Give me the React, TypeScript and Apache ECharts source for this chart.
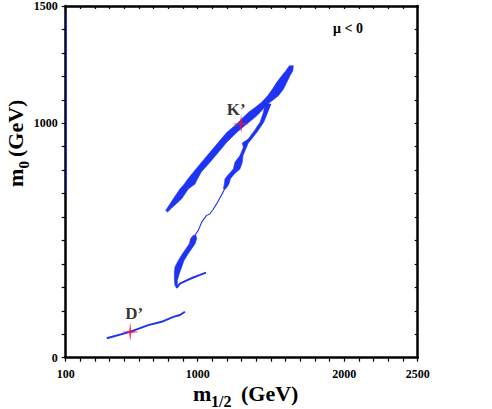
import React, { useEffect, useRef } from "react";
import * as echarts from "echarts";

// ---- axis setup ----
const xMin = 100;
const xMax = 2500;
const yMin = 0;
const yMax = 1500;
const xTickLabels = [100, 1000, 2000, 2500];
const yTickLabels = [0, 1000, 1500];

// ---- benchmark points ----
const benchmarkNames = ["K’", "D’"];
const benchmarkX = [1296, 540];
const benchmarkY = [997, 110];

// ---- upper band (thick top part + left branch), outline ----
const upperBandOutline: number[][] = [
  [1625, 1245], [1600, 1223], [1573, 1202], [1538, 1174], [1509, 1145], [1477, 1117],
  [1436, 1089], [1391, 1067], [1345, 1046], [1311, 1025], [1266, 997], [1198, 961],
  [1141, 919], [1084, 876], [1027, 834], [970, 791], [925, 756], [909, 741],
  [879, 720], [834, 678], [782, 628], [795, 621],
  [811, 632], [891, 678], [936, 720], [982, 741], [993, 756], [1023, 791],
  [1084, 834], [1141, 876], [1198, 919], [1266, 961], [1334, 997], [1391, 1025],
  [1425, 1046], [1454, 1067], [1493, 1089], [1550, 1117], [1584, 1145], [1607, 1174],
  [1629, 1202], [1648, 1223], [1652, 1245],
];

// ---- right branch (second band), outline ----
const rightBranchOutline: number[][] = [
  [1459, 1082], [1448, 1046], [1425, 1004], [1386, 968], [1345, 933], [1304, 916],
  [1311, 897], [1288, 862], [1254, 834], [1243, 805], [1213, 784], [1186, 763],
  [1182, 741], [1175, 720],
  [1191, 720], [1213, 741], [1223, 763], [1250, 784], [1288, 805], [1304, 834],
  [1309, 862], [1332, 897], [1345, 916], [1368, 933], [1411, 968], [1450, 1004],
  [1477, 1046], [1500, 1082],
];

// ---- thin connecting line of the second band ----
const thinLineX = [1183, 1170, 1150, 1129, 1105, 1084, 1061, 1040, 1027, 1004, 981];
const thinLineY = [718, 703, 680, 656, 632, 614, 607, 590, 578, 543, 522];

// ---- lower thick segment of the second band, outline ----
const lowerBlobOutline: number[][] = [
  [970, 522], [952, 508], [943, 486], [920, 465], [897, 444], [868, 415],
  [845, 387], [841, 359], [841, 330], [845, 309], [857, 296],
  [861, 309], [861, 330], [875, 359], [891, 387], [907, 415], [936, 444],
  [959, 465], [982, 486], [993, 508], [988, 522],
];

// ---- hook at the bottom of the second band ----
const hookX = [857, 879, 925, 970, 1016, 1057];
const hookY = [299, 316, 330, 342, 353, 363];

// ---- low branch through D' ----
const lowBranchX = [380, 538, 663, 754, 834, 879, 913];
const lowBranchY = [83, 110, 139, 153, 174, 182, 196];

// ---- blue strip along the left edge ----
const edgeStripX = [104, 104];
const edgeStripY = [700, 1470];

const BLUE = "#1f33f2";
const RED = "#f0103a";
const SERIF = "'Liberation Serif', 'Times New Roman', serif";

const zip = (xs: number[], ys: number[]) => xs.map((x, i) => [x, ys[i]]);

const polygonSeries = (outline: number[][]) => ({
  type: "custom",
  coordinateSystem: "cartesian2d",
  xAxisIndex: 0,
  yAxisIndex: 0,
  data: [[outline[0][0], outline[0][1]]],
  renderItem: (_p: any, api: any) => ({
    type: "polygon",
    shape: { points: outline.map((pt) => api.coord(pt)) },
    style: { fill: BLUE, stroke: BLUE, lineWidth: 0.6 },
  }),
  z: 3,
});

const lineSeries = (xs: number[], ys: number[], width: number) => ({
  type: "line",
  xAxisIndex: 0,
  yAxisIndex: 0,
  data: zip(xs, ys),
  showSymbol: false,
  symbol: "none",
  lineStyle: { color: BLUE, width },
  z: 3,
});

const crossPath =
  "path://M0,-10 L1.2,-1.2 L10,0 L1.2,1.2 L0,10 L-1.2,1.2 L-10,0 L-1.2,-1.2 Z";

export default function App() {
  const ref = useRef<HTMLDivElement>(null);

  useEffect(() => {
    if (!ref.current) return;
    const chart = echarts.init(ref.current, undefined, { renderer: "svg" });

    const axisCommon = {
      type: "value",
      axisLine: { show: true, onZero: false, lineStyle: { color: "#000", width: 2.5 } },
      splitLine: { show: false },
    };
    const labelStyle = {
      fontFamily: SERIF,
      fontWeight: "bold",
      fontSize: 12,
      color: "#000",
    };

    const labelOffsets = [
      [-5, -14],
      [4, -18],
    ];

    chart.setOption({
      animation: false,
      backgroundColor: "#fff",
      grid: { left: 65.7, right: 74.3, top: 5, bottom: 51.3, containLabel: false },
      xAxis: [
        {
          ...axisCommon,
          position: "bottom",
          min: xMin,
          max: xMax,
          interval: 100,
          axisTick: { show: true, inside: false, length: 4, lineStyle: { color: "#000", width: 1.2 } },
          axisLabel: {
            ...labelStyle,
            margin: 10,
            formatter: (v: number) => (xTickLabels.includes(v) ? String(v) : ""),
          },
        },
        {
          ...axisCommon,
          position: "top",
          min: xMin,
          max: xMax,
          interval: 100,
          axisTick: { show: true, inside: true, length: 3, lineStyle: { color: "#000", width: 1.2 } },
          axisLabel: { show: false },
        },
      ],
      yAxis: [
        {
          ...axisCommon,
          position: "left",
          min: yMin,
          max: yMax,
          interval: 100,
          axisTick: { show: true, inside: false, length: 4, lineStyle: { color: "#000", width: 1.2 } },
          axisLabel: {
            ...labelStyle,
            margin: 8,
            formatter: (v: number) => (yTickLabels.includes(v) ? String(v) : ""),
          },
        },
        {
          ...axisCommon,
          position: "right",
          min: yMin,
          max: yMax,
          interval: 100,
          axisTick: { show: true, inside: true, length: 3, lineStyle: { color: "#000", width: 1.2 } },
          axisLabel: { show: false },
        },
      ],
      series: [
        lineSeries(edgeStripX, edgeStripY, 1),
        polygonSeries(upperBandOutline),
        polygonSeries(rightBranchOutline),
        polygonSeries(lowerBlobOutline),
        lineSeries(thinLineX, thinLineY, 1.1),
        lineSeries(hookX, hookY, 2),
        lineSeries(lowBranchX, lowBranchY, 2),
        {
          type: "scatter",
          xAxisIndex: 0,
          yAxisIndex: 0,
          symbol: crossPath,
          symbolSize: [18, 19],
          itemStyle: { color: RED },
          z: 5,
          label: {
            show: true,
            position: "inside",
            formatter: (p: any) => p.name,
            fontFamily: SERIF,
            fontWeight: "bold",
            fontSize: 17,
            color: "#000",
            textBorderWidth: 0,
          },
          data: benchmarkNames.map((n, i) => ({
            name: n,
            value: [benchmarkX[i], benchmarkY[i]],
            label: { offset: labelOffsets[i] },
          })),
        },
      ],
      graphic: [
        {
          type: "text",
          left: 333,
          top: 21,
          style: {
            text: "μ < 0",
            font: `bold 14px ${SERIF}`,
            fill: "#000",
          },
        },
        // x-axis title: m_{1/2} (GeV)
        {
          type: "text",
          x: 193,
          y: 393.4,
          style: {
            text: "m",
            font: `bold 22px ${SERIF}`,
            fill: "#000",
            verticalAlign: "middle",
          },
        },
        {
          type: "text",
          x: 211,
          y: 401.5,
          style: {
            text: "1/2",
            font: `bold 16px ${SERIF}`,
            fill: "#000",
            verticalAlign: "middle",
          },
        },
        {
          type: "text",
          x: 241,
          y: 393.4,
          style: {
            text: "(GeV)",
            font: `bold 22px ${SERIF}`,
            fill: "#000",
            verticalAlign: "middle",
          },
        },
        // y-axis title: m_0 (GeV)
        {
          type: "group",
          x: 22,
          y: 187,
          rotation: Math.PI / 2,
          children: [
            {
              type: "text",
              x: 0,
              y: -6.6,
              style: {
                text: "m",
                font: `bold 22px ${SERIF}`,
                fill: "#000",
                verticalAlign: "middle",
              },
            },
            {
              type: "text",
              x: 18.5,
              y: 1.8,
              style: {
                text: "0",
                font: `bold 15px ${SERIF}`,
                fill: "#000",
                verticalAlign: "middle",
              },
            },
            {
              type: "text",
              x: 30,
              y: -6.6,
              style: {
                text: "(GeV)",
                font: `bold 22px ${SERIF}`,
                fill: "#000",
                verticalAlign: "middle",
              },
            },
          ],
        },
      ],
    });

    return () => chart.dispose();
  }, []);

  return (
    <div
      ref={ref}
      style={{ position: "absolute", left: 0, top: 0, width: 492, height: 409, background: "#fff" }}
    />
  );
}
